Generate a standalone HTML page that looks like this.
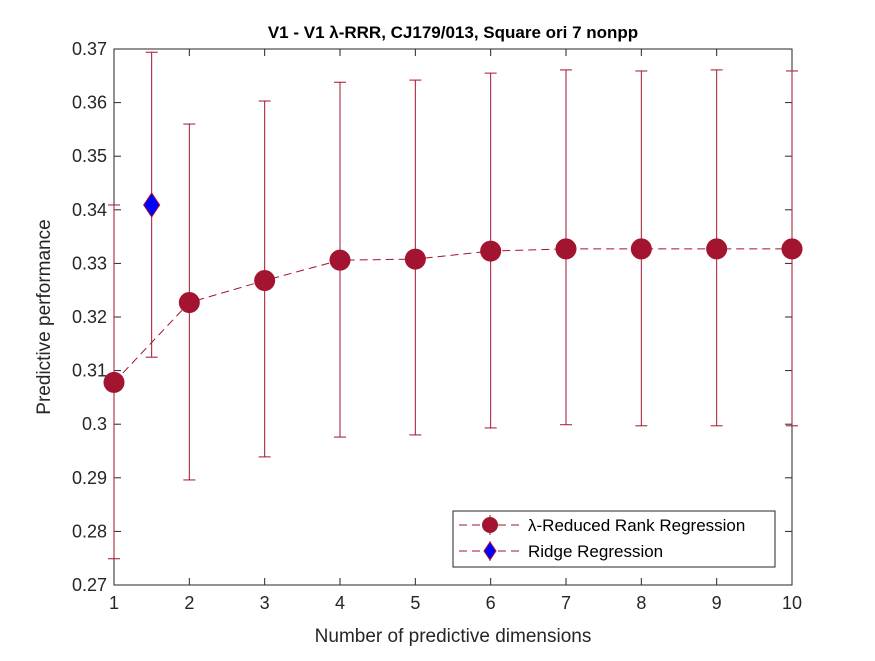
<!DOCTYPE html>
<html><head><meta charset="utf-8"><style>
body{margin:0;background:#fff;}
svg{font-family:"Liberation Sans",sans-serif;}
</style></head><body>
<svg id="chart" width="875" height="656">
<rect width="875" height="656" fill="#fff"/>
<g id="plot"></g>
</svg>
<script>
const dims=[1,2,3,4,5,6,7,8,9,10];
const rrrMean=[0.3078,0.3227,0.3268,0.3306,0.3308,0.3323,0.3327,0.3327,0.3327,0.3327];
const rrrUpper=[0.3409,0.3560,0.3603,0.3638,0.3642,0.3655,0.3661,0.3659,0.3661,0.3659];
const rrrLower=[0.2749,0.2896,0.2939,0.2976,0.2980,0.2993,0.2999,0.2997,0.2997,0.2997];
const ridgeX=[1.5];
const ridgeMean=[0.3409];
const ridgeUpper=[0.3694];
const ridgeLower=[0.3125];
const xTicks=[1,2,3,4,5,6,7,8,9,10];
const yTicks=[0.27,0.28,0.29,0.3,0.31,0.32,0.33,0.34,0.35,0.36,0.37];
const yTickLabels=["0.27","0.28","0.29","0.3","0.31","0.32","0.33","0.34","0.35","0.36","0.37"];

const L=114,R=792,T=49,B=585,NS="http://www.w3.org/2000/svg",C="#A2142F";
const xs=v=>L+(v-1)/9*(R-L);
const ys=v=>B-(v-0.27)/0.1*(B-T);
const g=document.getElementById('plot');
function mk(tag,a,txt){const e=document.createElementNS(NS,tag);for(const k in a)e.setAttribute(k,a[k]);if(txt!==undefined)e.textContent=txt;g.appendChild(e);return e;}

const frame=mk('rect',{x:L,y:T,width:R-L,height:B-T,fill:'none',stroke:'#262626','stroke-width':1});


xTicks.forEach(t=>{const x=xs(t);
 const a=mk('line',{x1:x,x2:x,y1:B,y2:B-7,stroke:'#262626'});
 const b=mk('line',{x1:x,x2:x,y1:T,y2:T+7,stroke:'#262626'});
 const l=mk('text',{x:x,y:B+24,'text-anchor':'middle','font-size':18,fill:'#262626'},String(t));});
yTicks.forEach((t,i)=>{const y=ys(t);
 const a=mk('line',{x1:L,x2:L+7,y1:y,y2:y,stroke:'#262626'});
 const b=mk('line',{x1:R,x2:R-7,y1:y,y2:y,stroke:'#262626'});
 const l=mk('text',{x:L-7,y:y+6,'text-anchor':'end','font-size':18,fill:'#262626'},yTickLabels[i]);});

function errbar(x,lo,hi,col,name){
 const px=xs(x);
 const s=mk('line',{x1:px,x2:px,y1:ys(lo),y2:ys(hi),stroke:col});
 [lo,hi].forEach(v=>{const c=mk('line',{x1:px-6,x2:px+6,y1:ys(v),y2:ys(v),stroke:col});});
}
dims.forEach((d,i)=>errbar(d,rrrLower[i],rrrUpper[i],C,'rrr-errorbar'));
ridgeX.forEach((d,i)=>errbar(d,ridgeLower[i],ridgeUpper[i],C,'ridge-errorbar'));
const line=mk('polyline',{points:dims.map((d,i)=>xs(d)+','+ys(rrrMean[i])).join(' '),fill:'none',stroke:C,'stroke-dasharray':'8,5'});


dims.forEach((d,i)=>{const c=mk('circle',{cx:xs(d),cy:ys(rrrMean[i]),r:10,fill:C,stroke:C});
 
 });
ridgeX.forEach((d,i)=>{const x=xs(d),y=ys(ridgeMean[i]);
 const p=mk('polygon',{points:`${x},${y-12} ${x+8},${y} ${x},${y+12} ${x-8},${y}`,fill:'#0000ff',stroke:C});
 
 });

const t=mk('text',{x:453,y:38,'text-anchor':'middle','font-size':17,'font-weight':'bold',fill:'#000'},'V1 - V1 λ-RRR, CJ179/013, Square ori 7 nonpp');

const xl=mk('text',{x:453,y:642,'text-anchor':'middle','font-size':19,fill:'#262626'},'Number of predictive dimensions');

const yl=mk('text',{x:0,y:0,'text-anchor':'middle','font-size':19,fill:'#262626',transform:`translate(50,${(T+B)/2}) rotate(-90)`},'Predictive performance');


const lg=mk('rect',{x:453,y:511,width:322,height:56,fill:'#fff',stroke:'#262626'});

[[525,'λ-Reduced Rank Regression','circle'],[551,'Ridge Regression','diamond']].forEach(([y,label,m])=>{
 const l=mk('line',{x1:459,x2:520,y1:y,y2:y,stroke:C,'stroke-dasharray':'8,5'});
 const e=mk('line',{x1:490,x2:490,y1:y-10,y2:y+10,stroke:C});
 let mm;
 if(m==='circle'){mm=mk('circle',{cx:490,cy:y,r:8,fill:C});}
 else{mm=mk('polygon',{points:`490,${y-9} 496,${y} 490,${y+9} 484,${y}`,fill:'#0000ff',stroke:C});}
 
 const tx=mk('text',{x:528,y:y+6,'font-size':17,fill:'#000'},label);
});
</script>
</body></html>
